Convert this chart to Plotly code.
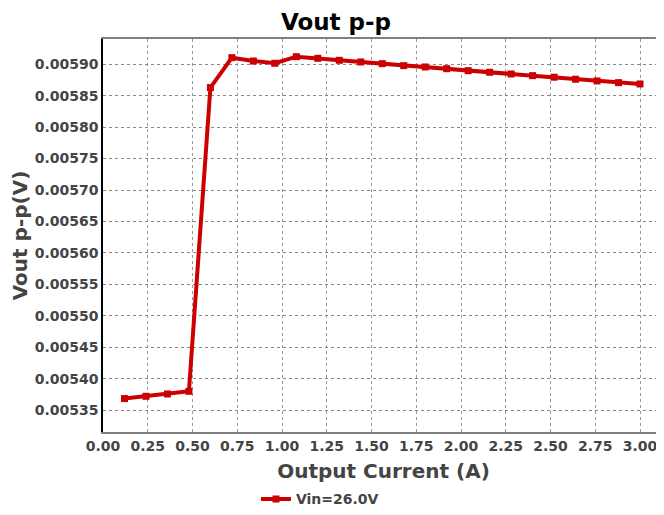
import plotly.graph_objects as go

current_a = [0.12, 0.24, 0.36, 0.48, 0.60, 0.72, 0.84, 0.96, 1.08, 1.20, 1.32, 1.44, 1.56,
             1.68, 1.80, 1.92, 2.04, 2.16, 2.28, 2.40, 2.52, 2.64, 2.76, 2.88, 3.00]
vout_pp = [0.0053683, 0.0053719, 0.0053756, 0.0053798, 0.0058629, 0.0059105, 0.0059052,
           0.0059016, 0.0059121, 0.0059095, 0.0059063, 0.0059037, 0.0059010, 0.0058978,
           0.0058957, 0.0058930, 0.0058898, 0.0058873, 0.0058846, 0.0058819, 0.0058794,
           0.0058762, 0.0058735, 0.0058708, 0.0058687]
series_name = "Vin=26.0V"
x_ticks = [0.00, 0.25, 0.50, 0.75, 1.00, 1.25, 1.50, 1.75, 2.00, 2.25, 2.50, 2.75, 3.00]
y_ticks = [0.00535, 0.00540, 0.00545, 0.00550, 0.00555, 0.00560, 0.00565, 0.00570,
           0.00575, 0.00580, 0.00585, 0.00590]

FONT = "DejaVu Sans"
RED = "#cc0000"

# The page body has an 8px margin, so the figure is sized to fill the rest of the window.
fig = go.Figure()
fig.add_trace(go.Scatter(
    x=current_a, y=vout_pp, name=f"<b>{series_name}</b>", mode="lines+markers",
    line=dict(color=RED, width=4),
    marker=dict(color=RED, symbol="square", size=7),
))

fig.update_layout(
    width=656, height=507,
    margin=dict(l=95, r=0, t=31, b=83, autoexpand=False),
    paper_bgcolor="white", plot_bgcolor="white",
    font=dict(family=FONT, color="#444444"),
    title=dict(text="<b>Vout p-p</b>", x=0.5, xanchor="center", xref="container",
               y=0.973, yanchor="middle", yref="container",
               font=dict(family=FONT, size=23, color="black")),
    showlegend=True,
    legend=dict(orientation="h", xref="container", yref="container",
                x=0.378, xanchor="left", y=0.031, yanchor="middle",
                font=dict(family=FONT, size=14, color="#444444"),
                itemwidth=30, bgcolor="rgba(0,0,0,0)"),
)
fig.update_xaxes(
    range=[0, 3.134], tickvals=x_ticks, ticktext=[f"<b>{v:.2f}</b>" for v in x_ticks],
    tickfont=dict(family=FONT, size=14, color="#444444"),
    title=dict(text="<b>Output Current (A)</b>", font=dict(family=FONT, size=20, color="#444444"), standoff=11),
    showgrid=True, gridcolor="#999999", griddash="dot", gridwidth=1,
    showline=True, linecolor="#808080", linewidth=2, mirror=True,
    ticks="", zeroline=False, automargin=False,
)
fig.update_yaxes(
    range=[0.0053151, 0.0059402], tickvals=y_ticks, ticktext=[f"<b>{v:.5f}</b>" for v in y_ticks],
    tickfont=dict(family=FONT, size=14, color="#444444"),
    title=dict(text="<b>Vout p-p(V)</b>", font=dict(family=FONT, size=20, color="#444444"), standoff=8),
    showgrid=True, gridcolor="#888888", griddash="dot", gridwidth=1,
    showline=True, linecolor="black", linewidth=1.5, mirror=False,
    ticks="", zeroline=False, automargin=False,
)

fig.write_html("out.html")
